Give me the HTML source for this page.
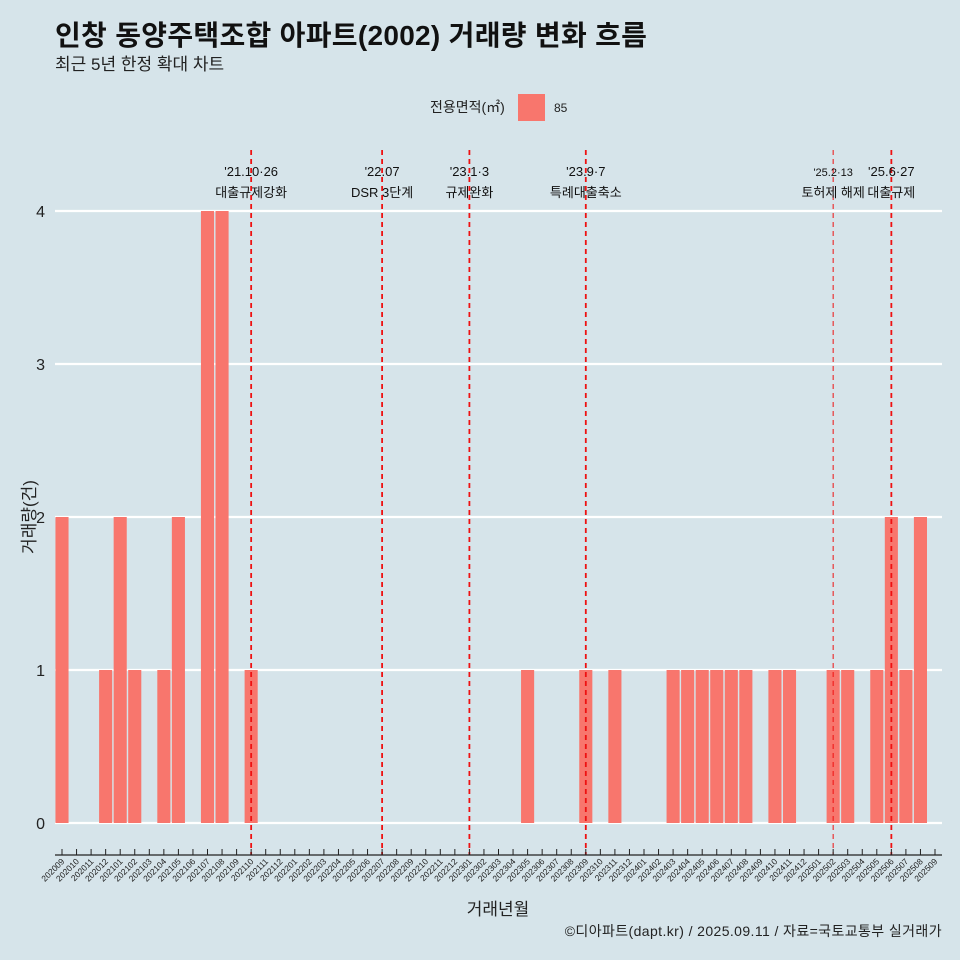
<!DOCTYPE html>
<html><head><meta charset="utf-8"><style>
body{margin:0;background:#d6e4ea;}
svg{display:block;font-family:"Liberation Sans","Noto Sans CJK KR",sans-serif;}
</style></head><body>
<svg id="c" width="960" height="960" viewBox="0 0 960 960">
<rect width="960" height="960" fill="#d6e4ea"/>
<text x="55" y="45" font-size="28" font-weight="bold" letter-spacing="0.3" fill="#111">인창 동양주택조합 아파트(2002) 거래량 변화 흐름</text>
<text x="55" y="70" font-size="17" fill="#222">최근 5년 한정 확대 차트</text>
<g>
<text x="430" y="112" font-size="14" fill="#222">전용면적(㎡)</text>
<rect x="518" y="94" width="27" height="27" fill="#f8766d"/>
<text x="554" y="112" font-size="12" fill="#222">85</text>
</g>
<g id="grid"></g><g id="bars"></g><g id="events"></g><g id="xaxis"></g>
<text x="35" y="517" font-size="17" fill="#222" transform="rotate(-90 35 517)" text-anchor="middle">거래량(건)</text>
<text x="498" y="915" font-size="17" fill="#222" text-anchor="middle">거래년월</text>
<text x="942" y="936" font-size="14" letter-spacing="0.4" fill="#222" text-anchor="end">©디아파트(dapt.kr) / 2025.09.11 / 자료=국토교통부 실거래가</text>
</svg>
<script>
const categories=[];
for(let y=2020,m=9;!(y===2025&&m===10);){categories.push(y+String(m).padStart(2,'0'));m++;if(m>12){m=1;y++;}}
const values={"202009":2,"202012":1,"202101":2,"202102":1,"202104":1,"202105":2,"202107":4,"202108":4,"202110":1,"202305":1,"202309":1,"202311":1,"202403":1,"202404":1,"202405":1,"202406":1,"202407":1,"202408":1,"202410":1,"202411":1,"202502":1,"202503":1,"202505":1,"202506":2,"202507":1,"202508":2};
const yTicks=[0,1,2,3,4];
const eventMonths=["202110","202207","202301","202309","202502","202506"];
const eventDates=["'21.10·26","'22.07","'23.1·3","'23.9·7","'25.2·13","'25.6·27"];
const eventLabels=["대출규제강화","DSR 3단계","규제완화","특례대출축소","토허제 해제","대출규제"];
const NS="http://www.w3.org/2000/svg";
const x0=62,dx=14.55,y0=823,ky=153,left=55,right=942;
const X=i=>x0+i*dx, Y=v=>y0-v*ky;
function mk(p,t,a){const e=document.createElementNS(NS,t);for(const k in a)e.setAttribute(k,a[k]);document.getElementById(p).appendChild(e);return e;}
yTicks.forEach(t=>{
 const l=mk('grid','line',{x1:left,x2:right,y1:Y(t),y2:Y(t),stroke:'#fff','stroke-width':2.2});
 
 
 const tx=mk('grid','text',{x:45,y:Y(t)+6,'font-size':16,'text-anchor':'end',fill:'#222'});tx.textContent=t;
 
 
});
categories.forEach((c,i)=>{
 const v=values[c]||0;
 if(v>0){const b=mk('bars','rect',{x:X(i)-dx*0.45,y:Y(v),width:dx*0.9,height:v*ky,fill:'#f8766d'});
 
 }
 const t=mk('xaxis','line',{x1:X(i),x2:X(i),y1:849,y2:855,stroke:'#222'});
 
 
 const lb=mk('xaxis','text',{x:X(i)+3,y:862,'font-size':8.5,'text-anchor':'end',fill:'#222',transform:`rotate(-45 ${X(i)+3} 862)`});lb.textContent=c;
 
 
});
const ax=mk('xaxis','line',{x1:left,x2:right,y1:855,y2:855,stroke:'#222','stroke-width':1.2});


eventMonths.forEach((m,k)=>{
 const i=categories.indexOf(m),x=X(i),thin=(m==="202502");
 const l=mk('events','line',{x1:x,x2:x,y1:150,y2:855,stroke:'#ee1111','stroke-width':thin?1:1.8,'stroke-dasharray':'5,4'});
 
 
 const d=mk('events','text',{x:x,y:176,'font-size':thin?11:13,'text-anchor':'middle',fill:'#111'});d.textContent=eventDates[k];
 
 
 const t=mk('events','text',{x:x,y:197,'font-size':13,'text-anchor':'middle',fill:'#111'});t.textContent=eventLabels[k];
 
 
});
</script>
</body></html>
